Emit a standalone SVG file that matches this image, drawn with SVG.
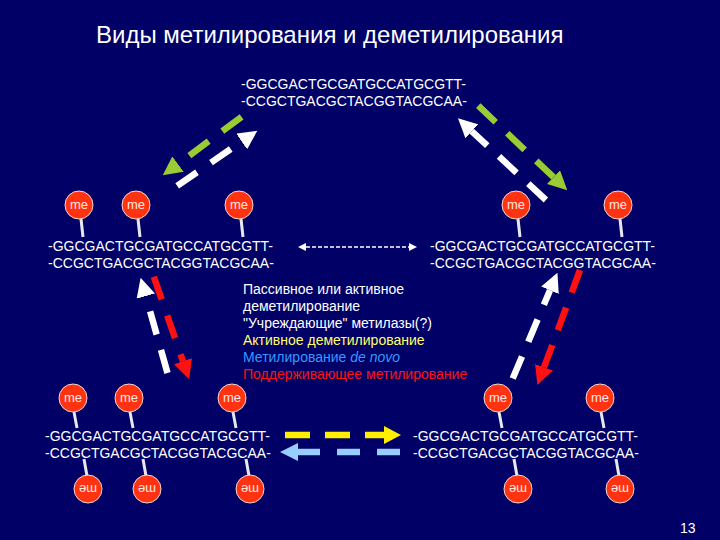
<svg xmlns="http://www.w3.org/2000/svg" width="720" height="540" viewBox="0 0 720 540">
<defs>
<style>
.t{font-family:"Liberation Sans",Arial,sans-serif;fill:#fff}
.dna{font-size:14px}
.c{fill:#ff3311;stroke:#f4d8d0;stroke-width:1}
.me{font-family:"Liberation Sans",Arial,sans-serif;font-size:13px;fill:#ffe8e0;text-anchor:middle}
.st{stroke:#e8e8f0;stroke-width:3}
.a{fill:none;stroke-width:6.5}
</style>
<marker id="hg" viewBox="0 0 20 20" refX="0" refY="10" markerWidth="19" markerHeight="19" markerUnits="userSpaceOnUse" orient="auto"><path d="M0,0L20,10L0,20z" fill="#99cc33"/></marker>
<marker id="hw" viewBox="0 0 20 20" refX="0" refY="10" markerWidth="19" markerHeight="19" markerUnits="userSpaceOnUse" orient="auto"><path d="M0,0L20,10L0,20z" fill="#ffffff"/></marker>
<marker id="hr" viewBox="0 0 20 20" refX="0" refY="10" markerWidth="19" markerHeight="19" markerUnits="userSpaceOnUse" orient="auto"><path d="M0,0L20,10L0,20z" fill="#ff1111"/></marker>
<marker id="hy" viewBox="0 0 20 20" refX="0" refY="10" markerWidth="17" markerHeight="18" markerUnits="userSpaceOnUse" orient="auto" preserveAspectRatio="none"><path d="M0,0L20,10L0,20z" fill="#ffee00"/></marker>
<marker id="hb" viewBox="0 0 20 20" refX="0" refY="10" markerWidth="18" markerHeight="18" markerUnits="userSpaceOnUse" orient="auto" preserveAspectRatio="none"><path d="M0,0L20,10L0,20z" fill="#99ccff"/></marker>
<marker id="hs" viewBox="0 0 10 10" refX="0" refY="5" markerWidth="8" markerHeight="8" markerUnits="userSpaceOnUse" orient="auto-start-reverse"><path d="M0,0L10,5L0,10z" fill="#ffffff"/></marker>
</defs>
<rect width="720" height="540" fill="#000066"/>

<g id="title"><text class="t" x="96" y="43" font-size="24">Виды метилирования и деметилирования</text></g>

<g id="dna-top">
<text class="t dna" x="241" y="89">-GGCGACTGCGATGCCATGCGTT-</text>
<text class="t dna" x="241" y="106">-CCGCTGACGCTACGGTACGCAA-</text>
</g>

<g id="dna-mid-left">
<line class="st" x1="81" y1="219" x2="83" y2="237"/>
<line class="st" x1="138" y1="219" x2="140" y2="237"/>
<line class="st" x1="241" y1="219" x2="243" y2="237"/>
<circle class="c" cx="79" cy="205" r="14"/><text class="me" x="79" y="209">me</text>
<circle class="c" cx="136" cy="205" r="14"/><text class="me" x="136" y="209">me</text>
<circle class="c" cx="239" cy="205" r="14"/><text class="me" x="239" y="209">me</text>
<text class="t dna" x="48" y="251">-GGCGACTGCGATGCCATGCGTT-</text>
<text class="t dna" x="48" y="268">-CCGCTGACGCTACGGTACGCAA-</text>
</g>

<g id="dna-mid-right">
<line class="st" x1="518" y1="219" x2="520" y2="237"/>
<line class="st" x1="620" y1="219" x2="622" y2="237"/>
<circle class="c" cx="516" cy="205" r="14"/><text class="me" x="516" y="209">me</text>
<circle class="c" cx="618" cy="205" r="14"/><text class="me" x="618" y="209">me</text>
<text class="t dna" x="430" y="251">-GGCGACTGCGATGCCATGCGTT-</text>
<text class="t dna" x="430" y="268">-CCGCTGACGCTACGGTACGCAA-</text>
</g>

<g id="dna-bottom-left">
<line class="st" x1="74" y1="412" x2="77" y2="428"/>
<line class="st" x1="130" y1="412" x2="133" y2="428"/>
<line class="st" x1="233" y1="412" x2="236" y2="428"/>
<circle class="c" cx="73" cy="398" r="14"/><text class="me" x="73" y="402">me</text>
<circle class="c" cx="129" cy="398" r="14"/><text class="me" x="129" y="402">me</text>
<circle class="c" cx="232" cy="398" r="14"/><text class="me" x="232" y="402">me</text>
<text class="t dna" x="45" y="441">-GGCGACTGCGATGCCATGCGTT-</text>
<text class="t dna" x="45" y="458">-CCGCTGACGCTACGGTACGCAA-</text>
<line class="st" x1="84" y1="459" x2="87" y2="476"/>
<line class="st" x1="143" y1="459" x2="146" y2="476"/>
<line class="st" x1="246" y1="459" x2="249" y2="476"/>
<circle class="c" cx="88" cy="489" r="14"/><text class="me" x="88" y="493" transform="rotate(180 88 489)">me</text>
<circle class="c" cx="147" cy="489" r="14"/><text class="me" x="147" y="493" transform="rotate(180 147 489)">me</text>
<circle class="c" cx="250" cy="489" r="14"/><text class="me" x="250" y="493" transform="rotate(180 250 489)">me</text>
</g>

<g id="dna-bottom-right">
<line class="st" x1="499" y1="412" x2="502" y2="428"/>
<line class="st" x1="601" y1="412" x2="604" y2="428"/>
<circle class="c" cx="498" cy="398" r="14"/><text class="me" x="498" y="402">me</text>
<circle class="c" cx="600" cy="398" r="14"/><text class="me" x="600" y="402">me</text>
<text class="t dna" x="413" y="441">-GGCGACTGCGATGCCATGCGTT-</text>
<text class="t dna" x="413" y="458">-CCGCTGACGCTACGGTACGCAA-</text>
<line class="st" x1="514" y1="459" x2="517" y2="476"/>
<line class="st" x1="616" y1="459" x2="619" y2="476"/>
<circle class="c" cx="518" cy="489" r="14"/><text class="me" x="518" y="493" transform="rotate(180 518 489)">me</text>
<circle class="c" cx="620" cy="489" r="14"/><text class="me" x="620" y="493" transform="rotate(180 620 489)">me</text>
</g>

<g id="legend" font-family="'Liberation Sans',Arial,sans-serif" font-size="14">
<text x="243" y="294" fill="#ffffff">Пассивное или активное</text>
<text x="243" y="311" fill="#ffffff">деметилирование</text>
<text x="243" y="328" fill="#ffffff">"Учреждающие" метилазы(?)</text>
<text x="243" y="345" fill="#ffff66">Активное деметилирование</text>
<text x="243" y="362" fill="#3399ff">Метилирование <tspan font-style="italic">de novo</tspan></text>
<text x="243" y="379" fill="#ff1111">Поддерживающее метилирование</text>
</g>

<g id="connectors">
<line class="a" x1="241.6" y1="116.8" x2="178" y2="164" stroke="#99cc33" stroke-dasharray="24 17" marker-end="url(#hg)"/>
<line class="a" x1="177.2" y1="185.9" x2="241.7" y2="141.5" stroke="#ffffff" stroke-dasharray="24 17" marker-end="url(#hw)"/>
<line class="a" x1="478.3" y1="105.7" x2="553.5" y2="177.2" stroke="#99cc33" stroke-dasharray="24 16" marker-end="url(#hg)"/>
<line class="a" x1="545.9" y1="200" x2="471.9" y2="131.3" stroke="#ffffff" stroke-dasharray="24 16" marker-end="url(#hw)"/>
<line class="a" x1="153.8" y1="276.7" x2="183" y2="361.2" stroke="#ff1111" stroke-dasharray="24 17" marker-end="url(#hr)"/>
<line class="a" x1="167.5" y1="373" x2="145.8" y2="296.1" stroke="#ffffff" stroke-dasharray="24 16" marker-end="url(#hw)"/>
<line class="a" x1="512.7" y1="378.5" x2="550" y2="290.3" stroke="#ffffff" stroke-dasharray="24 16" marker-end="url(#hw)"/>
<line class="a" x1="580" y1="270" x2="544" y2="367.3" stroke="#ff1111" stroke-dasharray="24 16" marker-end="url(#hr)"/>
<line class="a" x1="285" y1="435" x2="384" y2="435" stroke="#ffee00" stroke-dasharray="25 15" marker-end="url(#hy)"/>
<line class="a" x1="400" y1="452" x2="298" y2="452" stroke="#99ccff" stroke-dasharray="23 17" marker-end="url(#hb)"/>
<line x1="306" y1="247" x2="409" y2="247" stroke="#ffffff" stroke-width="1.5" stroke-dasharray="4 2" marker-start="url(#hs)" marker-end="url(#hs)"/>
</g>

<g id="page-number"><text class="t" x="680" y="533" font-size="14">13</text></g>
</svg>
